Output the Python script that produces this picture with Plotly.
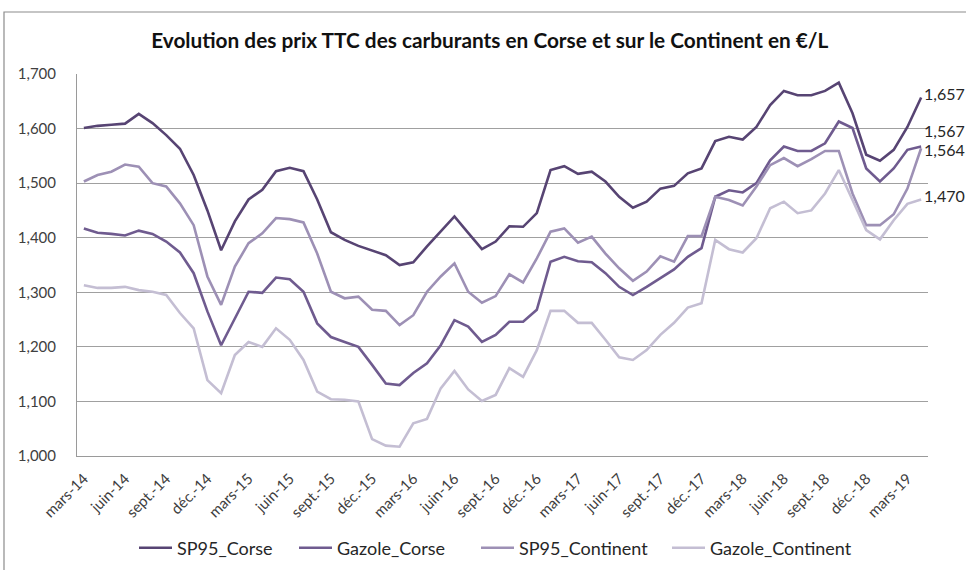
import plotly.graph_objects as go

# categories: mars-14 ... avr.-19 (62 months)
month_names = ["janv.", "févr.", "mars", "avr.", "mai", "juin", "juil.", "août", "sept.", "oct.", "nov.", "déc."]
categories = []
for k in range(62):
    m = (2 + k) % 12
    yr = 14 + (2 + k) // 12
    categories.append(f"{month_names[m]}-{yr}")

sp95_corse = [1.601, 1.605, 1.607, 1.609, 1.627, 1.610, 1.588, 1.563, 1.515, 1.450, 1.377, 1.430,
              1.470, 1.488, 1.522, 1.528, 1.522, 1.470, 1.410, 1.396, 1.385, 1.377, 1.368, 1.350,
              1.355, 1.384, 1.411, 1.439, 1.409, 1.379, 1.393, 1.421, 1.420, 1.445, 1.524, 1.531,
              1.517, 1.521, 1.503, 1.475, 1.455, 1.466, 1.490, 1.495, 1.518, 1.527, 1.577, 1.585,
              1.580, 1.603, 1.643, 1.669, 1.661, 1.661, 1.669, 1.684, 1.628, 1.552, 1.541, 1.561,
              1.603, 1.657]
gazole_corse = [1.417, 1.409, 1.407, 1.404, 1.413, 1.407, 1.393, 1.373, 1.335, 1.265, 1.203, 1.252,
                1.301, 1.299, 1.327, 1.324, 1.301, 1.243, 1.218, 1.209, 1.200, 1.167, 1.133, 1.130,
                1.152, 1.170, 1.203, 1.249, 1.237, 1.209, 1.222, 1.246, 1.246, 1.268, 1.356, 1.365,
                1.357, 1.355, 1.335, 1.310, 1.295, 1.310, 1.326, 1.342, 1.365, 1.381, 1.475, 1.487,
                1.483, 1.500, 1.542, 1.567, 1.559, 1.559, 1.573, 1.613, 1.601, 1.527, 1.503, 1.527,
                1.561, 1.567]
sp95_continent = [1.503, 1.515, 1.521, 1.534, 1.530, 1.500, 1.494, 1.463, 1.423, 1.329, 1.277, 1.347,
                  1.390, 1.408, 1.436, 1.434, 1.428, 1.371, 1.301, 1.289, 1.292, 1.268, 1.266, 1.240,
                  1.258, 1.301, 1.329, 1.353, 1.301, 1.281, 1.293, 1.333, 1.318, 1.362, 1.411, 1.417,
                  1.391, 1.402, 1.371, 1.344, 1.321, 1.338, 1.366, 1.356, 1.403, 1.403, 1.475, 1.469,
                  1.459, 1.494, 1.533, 1.546, 1.531, 1.544, 1.559, 1.559, 1.481, 1.423, 1.423, 1.443,
                  1.490, 1.564]
gazole_continent = [1.313, 1.308, 1.308, 1.310, 1.304, 1.301, 1.295, 1.262, 1.234, 1.139, 1.115, 1.185,
                    1.209, 1.200, 1.234, 1.213, 1.176, 1.118, 1.104, 1.103, 1.100, 1.031, 1.019, 1.017,
                    1.060, 1.068, 1.124, 1.156, 1.122, 1.101, 1.112, 1.161, 1.145, 1.194, 1.266, 1.266,
                    1.244, 1.244, 1.213, 1.181, 1.176, 1.194, 1.222, 1.244, 1.272, 1.280, 1.396, 1.379,
                    1.373, 1.399, 1.454, 1.466, 1.445, 1.450, 1.481, 1.524, 1.469, 1.414, 1.397, 1.432,
                    1.462, 1.470]

series_names = ["SP95_Corse", "Gazole_Corse", "SP95_Continent", "Gazole_Continent"]
series_values = [sp95_corse, gazole_corse, sp95_continent, gazole_continent]
colors = ["#574473", "#6f5b8f", "#9d90b5", "#c4bed3"]
label_shift = [4, 16, -1, 4]
legend_ids = ["legend", "legend2", "legend3", "legend4"]
legend_left_px = [134, 294, 476, 667]

y_ticks = [1.0, 1.1, 1.2, 1.3, 1.4, 1.5, 1.6, 1.7]
y_ticktext = [f"{v:.3f}".replace(".", ",") for v in y_ticks]
x_ticks = categories[::3]

FONT = "Lato, Open Sans, sans-serif"

fig = go.Figure()
for name, vals, col, lid in zip(series_names, series_values, colors, legend_ids):
    fig.add_trace(go.Scatter(x=categories, y=vals, mode="lines", name=name, legend=lid,
                             line=dict(color=col, width=2.6)))

for vals, shift in zip(series_values, label_shift):
    fig.add_annotation(x=categories[-1], y=vals[-1], text=f"{vals[-1]:.3f}".replace(".", ","),
                       showarrow=False, xanchor="left", yanchor="middle", xshift=1, yshift=shift,
                       font=dict(family=FONT, size=16, color="#262626"))

fig.update_layout(
    width=966, height=570,
    margin=dict(l=77, r=38, t=74, b=114, pad=0, autoexpand=False),
    paper_bgcolor="white", plot_bgcolor="white",
    title=dict(text="<b>Evolution des prix TTC des carburants en Corse et sur le Continent en €/L</b>",
               x=0.507, xanchor="center", y=1 - 41 / 570, yanchor="middle",
               font=dict(family=FONT, size=20.8, color="#111111")),
    showlegend=True,
    font=dict(family=FONT, color="#404040"),
)
for lid, lx in zip(legend_ids, legend_left_px):
    fig.update_layout({lid: dict(orientation="h", xref="container", yref="container",
                                 x=lx / 966, xanchor="left", y=1 - 548 / 570, yanchor="middle",
                                 font=dict(family=FONT, size=18, color="#262626"), itemwidth=33,
                                 bgcolor="rgba(0,0,0,0)")})

fig.update_xaxes(type="category", range=[-0.5, len(categories) - 0.5], automargin=False,
                 tickmode="array", tickvals=x_ticks, ticktext=x_ticks, tickangle=-45,
                 showgrid=False, showline=True, linecolor="#9a9a9a", linewidth=1,
                 ticks="", ticklabelstandoff=7,
                 tickfont=dict(family=FONT, size=15, color="#404040"))
fig.update_yaxes(range=[1.0, 1.7], tickmode="array", tickvals=y_ticks, ticktext=y_ticktext,
                 automargin=False,
                 showgrid=True, gridcolor="#a0a0a0", gridwidth=1, zeroline=False,
                 showline=True, linecolor="#9a9a9a", linewidth=1, ticks="",
                 ticklabelstandoff=17,
                 tickfont=dict(family=FONT, size=15, color="#404040"))

# chart border (Excel-style frame)
fig.add_shape(type="rect", xref="paper", yref="paper",
              x0=(4 - 77) / 851, x1=(975 - 77) / 851, y0=(456 - 590) / 382, y1=(456 - 12) / 382,
              line=dict(color="#8c8c8c", width=1.2), fillcolor="rgba(0,0,0,0)", layer="below")

fig.write_html("out.html", config={"displayModeBar": False},
               post_script="document.body.style.margin='0';document.body.style.overflow='hidden';")
